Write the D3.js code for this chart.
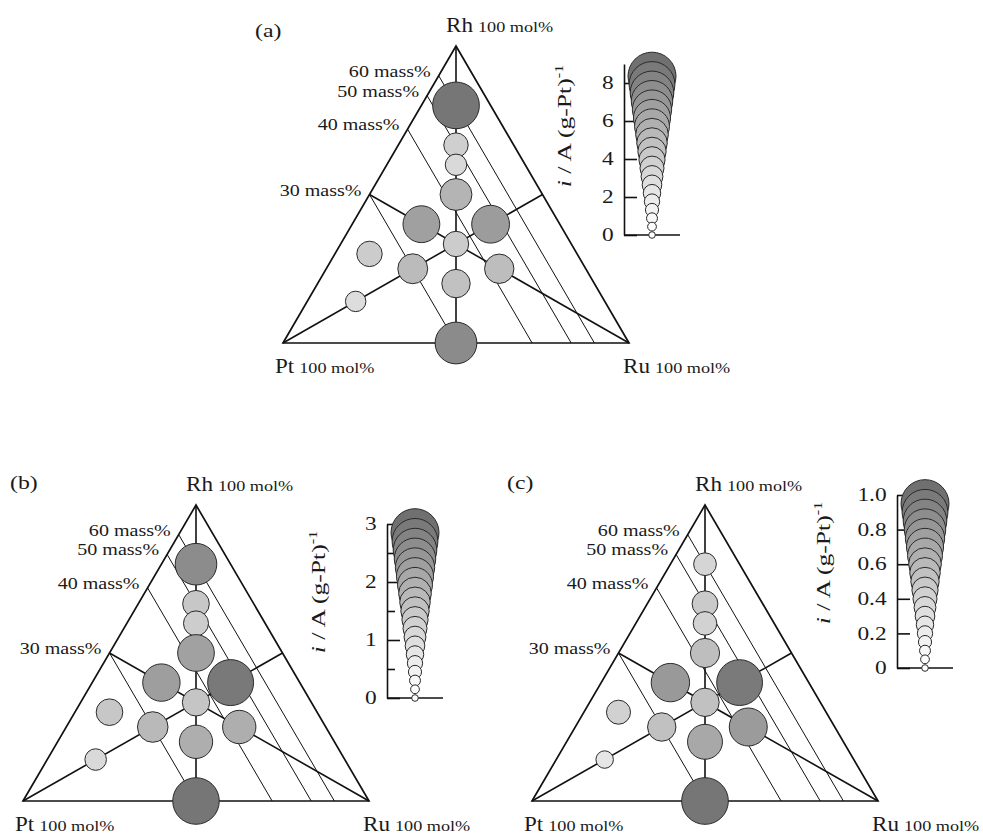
<!DOCTYPE html>
<html>
<head>
<meta charset="utf-8">
<script src="https://cdn.jsdelivr.net/npm/d3@7"></script>
<style>
  body { margin: 0; background: #fff; }
  text { font-family: "Liberation Serif", "Times New Roman", serif; fill: #1a1a1a; }
</style>
</head>
<body>
<svg id="chart" width="983" height="836"></svg>
<script>
// Catalyst compositions (mol fraction), identical in the three diagrams
const ptFrac = [0.10, 0.167, 0.20, 0.25, 0.40, 0.20, 0.333, 0.60, 0.50, 0.25, 0.40, 0.72, 0.50];
const rhFrac = [0.80, 0.667, 0.60, 0.50, 0.40, 0.40, 0.333, 0.30, 0.25, 0.25, 0.20, 0.14, 0.00];
const ruFrac = [0.10, 0.167, 0.20, 0.25, 0.20, 0.40, 0.333, 0.10, 0.25, 0.50, 0.40, 0.14, 0.50];

// Mass activity i / A (g-Pt)^-1 of each catalyst
const currentA = [8.1, 3.6, 3.0, 5.1, 6.1, 6.3, 3.8, 3.8, 4.7, 4.6, 4.4, 2.8, 7.1];
const currentB = [2.41, 1.38, 1.27, 2.07, 2.12, 2.71, 1.43, 1.38, 1.65, 1.84, 1.84, 1.03, 2.75];
const currentC = [0.37, 0.44, 0.39, 0.52, 0.73, 0.90, 0.50, 0.40, 0.50, 0.72, 0.65, 0.25, 0.92];

// Iso-Pt lines and their labels
const massLabels = ["30 mass%", "40 mass%", "50 mass%", "60 mass%"];
const massPtFrac = [0.50, 0.28, 0.167, 0.10];

// Size / shade keys
const keyA = [0, 0.44, 0.88, 1.32, 1.76, 2.2, 2.64, 3.08, 3.52, 3.96, 4.4, 4.84, 5.28, 5.72, 6.16, 6.6, 7.04, 7.48, 7.92, 8.36];
const keyB = [0, 0.15, 0.3, 0.45, 0.6, 0.75, 0.9, 1.05, 1.2, 1.35, 1.5, 1.65, 1.8, 1.95, 2.1, 2.25, 2.4, 2.55, 2.7, 2.85];
const keyC = [0, 0.05, 0.1, 0.15, 0.2, 0.25, 0.3, 0.35, 0.4, 0.45, 0.5, 0.55, 0.6, 0.65, 0.7, 0.75, 0.8, 0.85, 0.9, 0.95];

// Key axis ticks
const ticksA = [0, 2, 4, 6, 8];
const tickLabelsA = ["0", "2", "4", "6", "8"];
const ticksB = [0, 0.5, 1, 1.5, 2, 2.5, 3];
const tickLabelsB = ["0", "", "1", "", "2", "", "3"];
const ticksC = [0, 0.2, 0.4, 0.6, 0.8, 1.0];
const tickLabelsC = ["0", "0.2", "0.4", "0.6", "0.8", "1.0"];

const panels = [
  { tag: "(a)", tagX: 255, tagY: 37, left: 283, right: 629, base: 343, top: 46,
    values: currentA, key: keyA, ticks: ticksA, tickLabels: tickLabelsA, axisMax: 9,
    keyX: 624, keyY0: 235, keyYTop: 64, titleX: 571, titleY: 126 },
  { tag: "(b)", tagX: 10, tagY: 489, left: 23, right: 369, base: 801, top: 505,
    values: currentB, key: keyB, ticks: ticksB, tickLabels: tickLabelsB, axisMax: 3,
    keyX: 387, keyY0: 698, keyYTop: 524, titleX: 325, titleY: 592 },
  { tag: "(c)", tagX: 507, tagY: 489, left: 532, right: 878, base: 801, top: 505,
    values: currentC, key: keyC, ticks: ticksC, tickLabels: tickLabelsC, axisMax: 1,
    keyX: 897, keyY0: 668, keyYTop: 495, titleX: 830, titleY: 563 }
];

const svg = d3.select("#chart");
svg.append("rect").attr("width", 983).attr("height", 836).attr("fill", "#fff");

function addText(g, x, y, str, size, sx, anchor) {
  return g.append("text")
    .attr("transform", `translate(${x},${y}) scale(${sx},1)`)
    .attr("text-anchor", anchor || "start")
    .style("font-size", size + "px")
    .text(str);
}

function vertexLabel(g, x, y, name) {
  const t = addText(g, x, y, name, 22, 1.05);
  const w = t.node().getComputedTextLength() * 1.05;
  addText(g, x + w + 5, y, "100 mol%", 14, 1.3);
}

function drawPanel(p) {
  const g = svg.append("g");
  const vmax = p.key[p.key.length - 1];

  // ternary position: horizontal from Ru + Rh/2, vertical from Rh
  const x = d3.scaleLinear().domain([0, 1]).range([p.left, p.right]);
  const y = d3.scaleLinear().domain([0, 1]).range([p.base, p.top]);
  const pos = (pt, rh, ru) => {
    const s = pt + rh + ru;
    return [x((ru + rh / 2) / s), y(rh / s)];
  };
  const r = d3.scaleLinear().domain([0, vmax]).range([3.3, 24]);
  const shade = d3.scalePow().exponent(1.3).domain([0, vmax]).range(["#ffffff", "#707070"]);

  const line = (a, b, w) => g.append("line")
    .attr("x1", a[0]).attr("y1", a[1]).attr("x2", b[0]).attr("y2", b[1])
    .attr("stroke", "#111").attr("stroke-width", w);

  const vPt = pos(1, 0, 0), vRh = pos(0, 1, 0), vRu = pos(0, 0, 1);

  // iso-Pt lines, parallel to the Rh-Ru side
  massPtFrac.forEach((f, i) => {
    const a = pos(f, 1 - f, 0), b = pos(f, 0, 1 - f);
    line(a, b, 1);
    addText(g, a[0] - 8, a[1] + 1, massLabels[i], 17, 1.18, "end");
  });

  // medians
  line(vRh, pos(0.5, 0, 0.5), 1.6);
  line(vPt, pos(0, 0.5, 0.5), 1.6);
  line(vRu, pos(0.5, 0.5, 0), 1.6);

  // triangle outline
  g.append("path")
    .attr("d", d3.line()([vPt, vRu, vRh]) + "Z")
    .attr("fill", "none").attr("stroke", "#111").attr("stroke-width", 1.7)
    .attr("stroke-linejoin", "miter");

  // catalysts
  g.append("g").selectAll("circle")
    .data(p.values.map((v, i) => ({ v, c: pos(ptFrac[i], rhFrac[i], ruFrac[i]) })))
    .join("circle")
    .attr("cx", d => d.c[0]).attr("cy", d => d.c[1])
    .attr("r", d => r(d.v))
    .attr("fill", d => shade(d.v))
    .attr("stroke", "#2a2a2a").attr("stroke-width", 1);

  // labels
  addText(g, p.tagX, p.tagY, p.tag, 19, 1.25);
  vertexLabel(g, vRh[0] - 10, vRh[1] - 14, "Rh");
  vertexLabel(g, vPt[0] - 8, vPt[1] + 30, "Pt");
  vertexLabel(g, vRu[0] - 6, vRu[1] + 30, "Ru");

  // key: axis
  const ky = d3.scaleLinear().domain([0, p.axisMax]).range([p.keyY0, p.keyYTop]);
  const ax = g.append("g").attr("transform", `translate(${p.keyX},0)`)
    .call(d3.axisLeft(ky).tickValues(p.ticks)
      .tickFormat((d, i) => p.tickLabels[i])
      .tickSizeInner(-13).tickSizeOuter(0).tickPadding(8));
  ax.attr("font-family", null).attr("font-size", null);
  ax.select(".domain").attr("stroke", "#111").attr("stroke-width", 1.6);
  ax.selectAll(".tick line").attr("stroke", "#111").attr("stroke-width", 1.6)
    .filter((d, i) => p.tickLabels[i] === "").attr("x2", 8);
  ax.selectAll(".tick text").attr("fill", "#1a1a1a").style("font-size", "18px")
    .attr("transform", "scale(1.3,1)");
  g.append("line")
    .attr("x1", p.keyX).attr("x2", p.keyX + 56)
    .attr("y1", ky(0)).attr("y2", ky(0))
    .attr("stroke", "#111").attr("stroke-width", 1.6);

  // key: stacked circles, largest first
  g.append("g").selectAll("circle")
    .data(p.key.slice().sort((a, b) => b - a))
    .join("circle")
    .attr("cx", p.keyX + 28).attr("cy", d => ky(d))
    .attr("r", d => r(d))
    .attr("fill", d => shade(d))
    .attr("stroke", "#2a2a2a").attr("stroke-width", 1);

  // key title
  const t = g.append("text")
    .attr("transform", `translate(${p.titleX},${p.titleY}) rotate(-90) scale(1.35,1)`)
    .attr("text-anchor", "middle").style("font-size", "19px");
  t.append("tspan").style("font-style", "italic").text("i");
  t.append("tspan").text(" / A (g-Pt)");
  t.append("tspan").attr("dy", -8).style("font-size", "12px").text("-1");
}

panels.forEach(drawPanel);
</script>
</body>
</html>
